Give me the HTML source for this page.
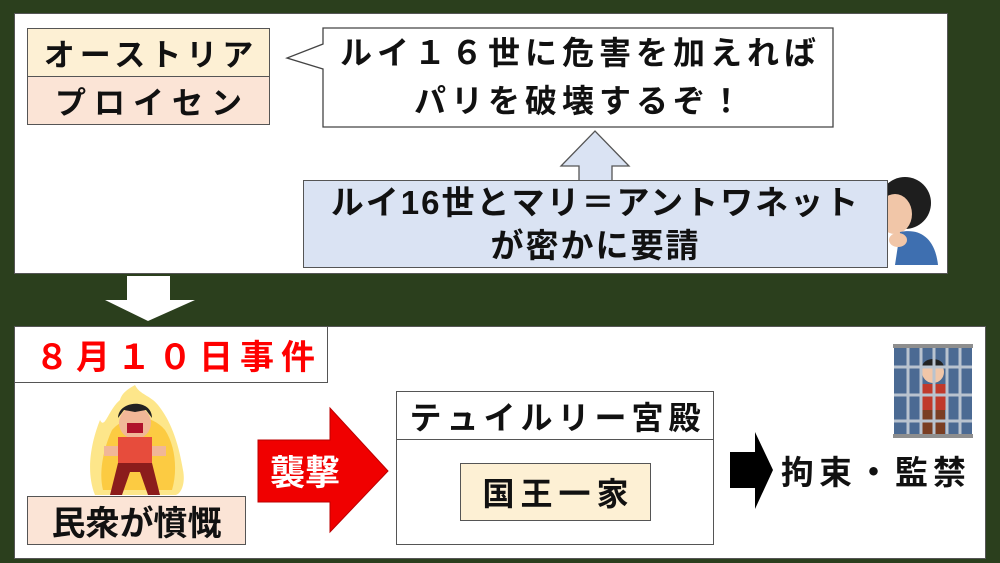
<!DOCTYPE html>
<html><head><meta charset="utf-8"><style>
html,body{margin:0;padding:0;}
body{width:1000px;height:563px;background:#2b3f1d;position:relative;overflow:hidden;font-family:"Liberation Sans","Noto Sans CJK JP",sans-serif;font-weight:bold;}
.a{position:absolute;box-sizing:border-box;}
.t{display:flex;align-items:center;justify-content:center;color:#111;white-space:nowrap;}
</style></head><body>
<div class="a" style="left:14px;top:13px;width:934px;height:261px;background:#fff;border:1px solid #555;"></div>
<div class="a" style="left:14px;top:326px;width:972px;height:233px;background:#fff;border:1px solid #555;"></div>

<svg class="a" style="left:0;top:0" width="1000" height="563">
 <path d="M323,28 H833 V127 H323 V69 L287,58 L323,44 Z" fill="#fff" stroke="#444" stroke-width="1.3"/>
 <path d="M579,181 V166 H561 L595,131 L629,166 H612 V181" fill="#dae3f3" stroke="#555" stroke-width="1.3"/>
 <path d="M127,276 H170 V300 H195 L148,321 L105,300 H127 Z" fill="#fff"/>
 <path d="M258,440 H330 V408 L388,471 L330,532 V502 H258 Z" fill="#f00000" stroke="#b00" stroke-width="1"/>
 <path d="M730,452 H755 V432 L773,470 L755,509 V488 H730 Z" fill="#000"/>
 <path d="M95,495 C85,470 92,440 100,420 C105,430 108,410 120,400 C122,392 130,388 135,385 C140,395 150,395 158,405 C170,420 178,440 183,470 C186,485 180,495 175,495 Z" fill="#fde68a"/>
 <path d="M103,490 C98,470 105,445 112,430 C125,415 150,412 165,430 C175,445 178,470 172,490 Z" fill="#fbbf24" opacity="0.7"/>
 <circle cx="135" cy="423" r="16" fill="#f1b797"/>
 <path d="M118,418 C118,400 152,398 152,418 L146,410 L135,412 L124,410 Z" fill="#222"/>
 <rect x="127" y="423" width="16" height="10" fill="#b0112b"/>
 <rect x="118" y="437" width="34" height="26" fill="#e74c3c"/>
 <rect x="104" y="446" width="14" height="10" fill="#f1b797"/><rect x="152" y="446" width="14" height="10" fill="#f1b797"/>
 <path d="M118,463 H152 L160,495 H148 L140,472 H130 L122,495 H110 Z" fill="#8b1c1c"/>
 <circle cx="905" cy="203" r="26" fill="#1e1e1e"/>
 <ellipse cx="895" cy="214" rx="17" ry="20" fill="#f1c6a8"/>
 <path d="M900,232 C920,228 935,238 938,265 H895 Z" fill="#3e6fb0"/>
 <ellipse cx="898" cy="240" rx="9" ry="7" fill="#f1c6a8"/>
 <rect x="894" y="346" width="78" height="90" fill="#4b6a93"/>
 <circle cx="933" cy="372" r="11" fill="#f1c6a8"/>
 <path d="M922,368 C922,356 944,356 944,368 Z" fill="#222"/>
 <rect x="920" y="384" width="26" height="26" fill="#c0392b"/>
 <rect x="921" y="410" width="24" height="26" fill="#7a3e23"/>
 <g stroke="#b9c3cf" stroke-width="3">
  <line x1="908" y1="346" x2="908" y2="436"/><line x1="921" y1="346" x2="921" y2="436"/><line x1="934" y1="346" x2="934" y2="436"/><line x1="947" y1="346" x2="947" y2="436"/><line x1="960" y1="346" x2="960" y2="436"/>
  <line x1="894" y1="367" x2="972" y2="367"/><line x1="894" y1="395" x2="972" y2="395"/><line x1="894" y1="421" x2="972" y2="421"/>
 </g>
 <rect x="893" y="344" width="80" height="4" fill="#8e8e8e"/><rect x="893" y="434" width="80" height="4" fill="#8e8e8e"/>
</svg>

<div class="a t" style="left:27px;top:28px;width:243px;height:49px;background:#fdf0d4;border:1.3px solid #555;font-size:31px;letter-spacing:5px;padding-left:5px;">オーストリア</div>
<div class="a t" style="left:27px;top:76px;width:243px;height:49px;background:#fbe4d6;border:1.3px solid #555;font-size:31px;letter-spacing:8px;padding-left:8px;">プロイセン</div>

<div class="a" style="left:323px;top:29px;width:510px;text-align:center;font-size:32px;line-height:48px;color:#111;letter-spacing:5px;padding-left:5px;">ルイ１６世に危害を加えれば<br>パリを破壊するぞ！</div>

<div class="a" style="left:303px;top:180px;width:585px;height:88px;background:#dae3f3;border:1.3px solid #555;"></div>
<div class="a" style="left:303px;top:180px;width:585px;text-align:center;font-size:33px;line-height:43px;color:#111;letter-spacing:2px;padding-top:1px;">ルイ16世とマリ＝アントワネット<br>が密かに要請</div>

<div class="a t" style="left:14px;top:326px;width:314px;height:57px;background:#fff;border:1px solid #555;color:#f00;font-size:34px;letter-spacing:7px;justify-content:flex-start;padding-left:20px;">８月１０日事件</div>

<div class="a t" style="left:27px;top:496px;width:219px;height:49px;background:#fbe4d6;border:1.3px solid #555;font-size:34px;">民衆が憤慨</div>

<div class="a t" style="left:264px;top:450px;width:85px;height:40px;color:#fff;font-size:35px;justify-content:flex-start;padding-left:6px;">襲撃</div>

<div class="a" style="left:396px;top:391px;width:318px;height:154px;background:#fff;border:1.3px solid #555;"></div>
<div class="a t" style="left:396px;top:391px;width:318px;height:49px;border:1.3px solid #555;font-size:32px;letter-spacing:5px;padding-left:5px;">テュイルリー宮殿</div>
<div class="a t" style="left:460px;top:463px;width:191px;height:58px;background:#fdf0d4;border:1.3px solid #555;font-size:32px;letter-spacing:6px;padding-left:6px;">国王一家</div>

<div class="a t" style="left:781px;top:448px;width:200px;height:44px;font-size:33px;letter-spacing:5px;justify-content:flex-start;">拘束・監禁</div>
</body></html>
